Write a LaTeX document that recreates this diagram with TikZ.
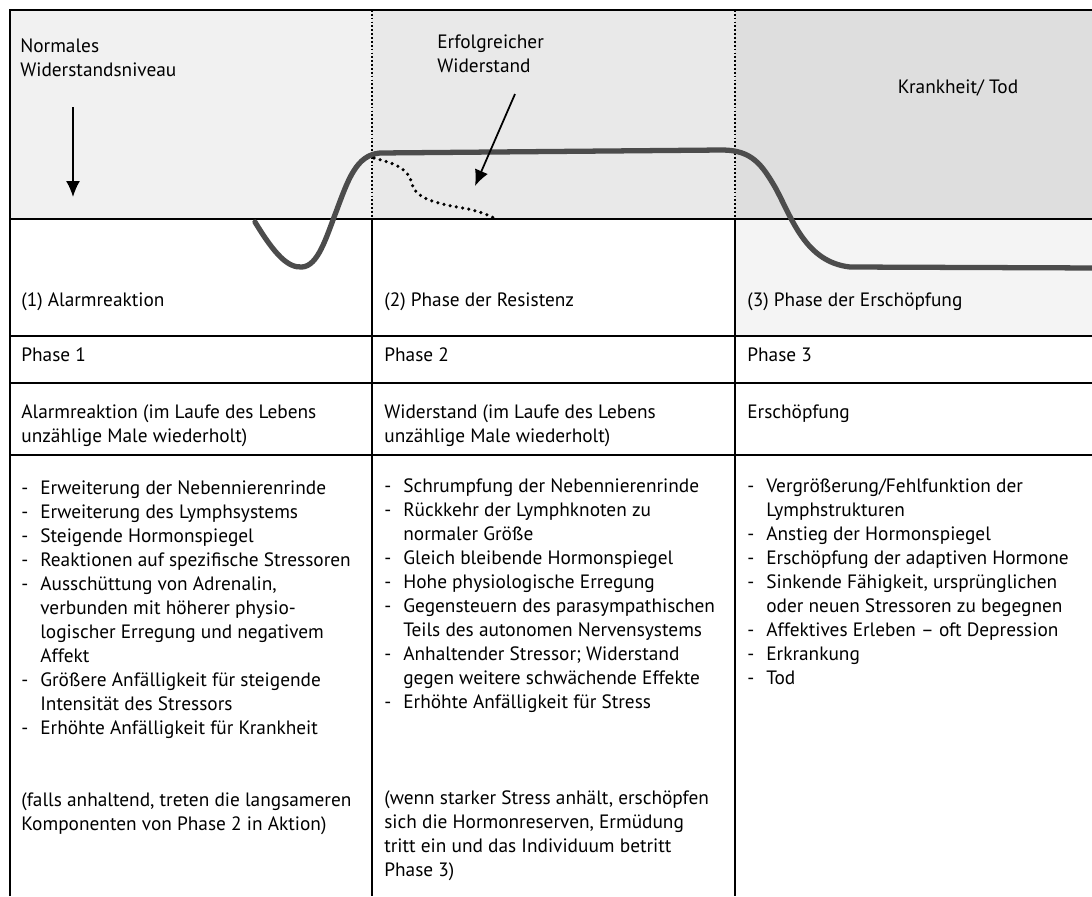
\documentclass[tikz,border=0pt]{standalone}
\usepackage{fontspec}
\setmainfont{PT Sans}
\usetikzlibrary{arrows.meta}
\newcommand{\strich}{\makebox[0.38cm][l]{-}}
\newcommand{\weiter}{\hspace*{0.38cm}}
\newcommand{\textgr}{\fontsize{11}{13.66}\selectfont}
\tikzset{%
  >={Latex[width=2.8mm,length=3.2mm]},
  % Styles for the table, the texts and the curve
     gitter/.style = {draw=black, line width=0.7pt},
  gitterPkt/.style = {draw=black, line width=0.7pt, dash pattern=on 1pt off 1.2pt},
      zelle/.style = {inner sep=0pt, anchor=west, font=\textgr},
      liste/.style = {inner sep=0pt, anchor=north west, align=left, font=\textgr},
      kurve/.style = {draw=gray!60!black, line width=3pt, line cap=round},
   kurvePkt/.style = {draw=black, line width=2pt, line cap=round,
                      dash pattern=on 0pt off 3.6pt},
}

\begin{document}
\begin{tikzpicture}[x=0.02cm, y=-0.02cm]
  \clip (0,0) rectangle (1092,896);
  % shaded background
  \fill[gray!11] (10,10) rectangle (372,219);
  \fill[gray!17] (372,10) rectangle (735,219);
  \fill[gray!26] (735,10) rectangle (1092,219);
  \fill[gray!9]  (735,219) rectangle (1092,336);
  % table lines
  \draw[gitter] (10,896) -- (10,10) -- (1092,10);
  \foreach \y in {219,336,383,455}
    \draw[gitter] (10,\y) -- (1092,\y);
  \foreach \x in {372,735} {
    \draw[gitterPkt] (\x,10) -- (\x,219);
    \draw[gitter] (\x,219) -- (\x,896);
  }
  % curve of resistance
  \draw[kurve] (255,222) .. controls (275,255) and (288,268) .. (302,267)
     .. controls (318,266) and (326,238) .. (336,212)
     .. controls (348,180) and (356,155) .. (380,153)
     -- (722,150)
     .. controls (752,150) and (762,165) .. (775,187)
     .. controls (792,218) and (805,262) .. (850,267)
     -- (1100,268);
  \draw[kurvePkt] (374,158) .. controls (396,164) and (408,168) .. (412,184)
     .. controls (416,200) and (440,204) .. (468,209)
     .. controls (482,212) and (490,216) .. (496,219);
  % labels in the top band
  \node (normal) [liste] at (20,38) {Normales\\Widerstandsniveau};
  \coordinate (normalTail) at (73,107);
  \coordinate (normalTip)  at (73,197);
  \draw[->, line width=1pt] (normalTail) -- (normalTip);
  \node (erfolg) [liste] at (437,34) {Erfolgreicher\\Widerstand};
  \coordinate (erfolgTail) at (515,94);
  \coordinate (erfolgTip)  at (475,186);
  \draw[->, line width=1pt] (erfolgTail) -- (erfolgTip);
  \node (krank) [zelle, anchor=center] at (958,88) {Krankheit/ Tod};
  % phase rows
  \node (alarm)  [zelle] at (21,302)  {(1) Alarmreaktion};
  \node (resist) [zelle] at (384,302) {(2) Phase der Resistenz};
  \node (ersch)  [zelle] at (747,302) {(3) Phase der Erschöpfung};
  \node (ph1) [zelle] at (21,355)  {Phase 1};
  \node (ph2) [zelle] at (384,355) {Phase 2};
  \node (ph3) [zelle] at (747,355) {Phase 3};
  \node (art1) [liste] at (21,404)  {Alarmreaktion (im Laufe des Lebens\\unzählige Male wiederholt)};
  \node (art2) [liste] at (384,404) {Widerstand (im Laufe des Lebens\\unzählige Male wiederholt)};
  \node (art3) [liste] at (747,404) {Erschöpfung};
  % lists of symptoms
  \node (liste1) [liste] at (21,480) {%
    \strich Erweiterung der Nebennierenrinde\\
    \strich Erweiterung des Lymphsystems\\
    \strich Steigende Hormonspiegel\\
    \strich Reaktionen auf spezifische Stressoren\\
    \strich Ausschüttung von Adrenalin,\\
    \weiter verbunden mit höherer physio-\\
    \weiter logischer Erregung und negativem\\
    \weiter Affekt\\
    \strich Größere Anfälligkeit für steigende\\
    \weiter Intensität des Stressors\\
    \strich Erhöhte Anfälligkeit für Krankheit};
  \node (liste2) [liste] at (384,478) {%
    \strich Schrumpfung der Nebennierenrinde\\
    \strich Rückkehr der Lymphknoten zu\\
    \weiter normaler Größe\\
    \strich Gleich bleibende Hormonspiegel\\
    \strich Hohe physiologische Erregung\\
    \strich Gegensteuern des parasympathischen\\
    \weiter Teils des autonomen Nervensystems\\
    \strich Anhaltender Stressor; Widerstand\\
    \weiter gegen weitere schwächende Effekte\\
    \strich Erhöhte Anfälligkeit für Stress};
  \node (liste3) [liste] at (747,478) {%
    \strich Vergrößerung/Fehlfunktion der\\
    \weiter Lymphstrukturen\\
    \strich Anstieg der Hormonspiegel\\
    \strich Erschöpfung der adaptiven Hormone\\
    \strich Sinkende Fähigkeit, ursprünglichen\\
    \weiter oder neuen Stressoren zu begegnen\\
    \strich Affektives Erleben -- oft Depression\\
    \strich Erkrankung\\
    \strich Tod};
  \node (folge1) [liste] at (21,792) {(falls anhaltend, treten die langsameren\\Komponenten von Phase 2 in Aktion)};
  \node (folge2) [liste] at (384,790) {(wenn starker Stress anhält, erschöpfen\\sich die Hormonreserven, Ermüdung\\tritt ein und das Individuum betritt\\Phase 3)};
\end{tikzpicture}
\end{document}
